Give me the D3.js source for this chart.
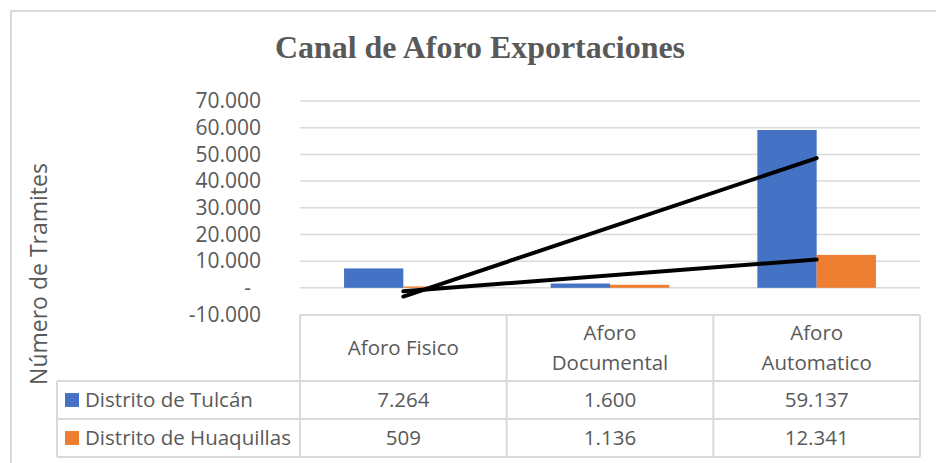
<!DOCTYPE html>
<html>
<head>
<meta charset="utf-8">
<script src="https://cdn.jsdelivr.net/npm/d3@7"></script>
<style>
  body { margin: 0; background: #fff; }
  svg { display: block; font-family: "Open Sans", "Noto Sans", sans-serif; }
</style>
</head>
<body>
<svg></svg>
<script>
var categories = ['Aforo Fisico', 'Aforo Documental', 'Aforo Automatico']
var headerLines = [['Aforo Fisico'], ['Aforo', 'Documental'], ['Aforo', 'Automatico']]
var seriesNames = ['Distrito de Tulcán', 'Distrito de Huaquillas']
var tulcan = [7264, 1600, 59137]
var huaquillas = [509, 1136, 12341]
var yTicks = [-10000, 0, 10000, 20000, 30000, 40000, 50000, 60000, 70000]

var width = 936, height = 463
var colors = ['#4472C4', '#ED7D31']
var textColor = '#595959'
var lineColor = '#d9d9d9'
var seriesValues = [tulcan, huaquillas]

// numbers with dot as thousands separator and a plain hyphen for minus
function fmt(v) {return d3.format(',')(v).replace(/,/g, '.').replace('\u2212', '-')}

var svg = d3.select('svg').attr('width', width).attr('height', height)

// outer chart border
svg.append('rect')
	.attr('x', 11).attr('y', 11)
	.attr('width', width + 10).attr('height', height + 10)
	.attr('fill', 'none').attr('stroke', lineColor).attr('stroke-width', 2)

svg.append('text')
	.attr('x', 480).attr('y', 58)
	.attr('text-anchor', 'middle')
	.attr('font-family', '"Liberation Serif", "Times New Roman", serif')
	.attr('font-weight', 'bold').attr('font-size', 32)
	.attr('textLength', 410).attr('lengthAdjust', 'spacingAndGlyphs')
	.attr('fill', textColor)
	.text('Canal de Aforo Exportaciones')

var plotLeft = 300, plotRight = 920
var x = d3.scaleBand().domain(categories).range([plotLeft, plotRight])
var xs = d3.scaleBand().domain(seriesNames).range([0, x.bandwidth()]).paddingOuter(0.743)
var y = d3.scaleLinear().domain([-10000, 70000]).range([314.5, 101])

// gridlines
svg.append('g').selectAll('line')
	.data(yTicks.filter(function(t) {return t > -10000}))
	.enter().append('line')
	.attr('x1', plotLeft).attr('x2', plotRight)
	.attr('y1', function(t) {return y(t)}).attr('y2', function(t) {return y(t)})
	.attr('stroke', lineColor).attr('stroke-width', 1.5)

// y axis labels
var yAxis = d3.axisLeft(y).tickValues(yTicks).tickSize(0).tickPadding(0)
	.tickFormat(function(t) {return t === 0 ? '-' : fmt(t)})
var yg = svg.append('g').attr('transform', 'translate(261,0)').call(yAxis)
yg.select('.domain').remove()
yg.selectAll('text').attr('font-size', 21).attr('fill', textColor)
	.attr('font-family', '"Open Sans", sans-serif')
	.attr('dx', function(t) {return t === 0 ? -10 : 0})

svg.append('text')
	.attr('transform', 'translate(47,274) rotate(-90)')
	.attr('text-anchor', 'middle')
	.attr('font-size', 23).attr('fill', textColor)
	.text('Número de Tramites')

// bars
var groups = svg.append('g').selectAll('g')
	.data(seriesNames).enter().append('g')
	.attr('fill', function(d, i) {return colors[i]})
groups.selectAll('rect')
	.data(function(s, i) {return seriesValues[i].map(function(v, j) {return {s: s, c: categories[j], v: v}})})
	.enter().append('rect')
	.attr('x', function(d) {return x(d.c) + xs(d.s)})
	.attr('width', xs.bandwidth())
	.attr('y', function(d) {return y(Math.max(0, d.v))})
	.attr('height', function(d) {return Math.abs(y(d.v) - y(0))})

// linear trendlines (least squares over category index)
function trend(vals) {
	var n = vals.length
	var xm = d3.mean(vals, function(v, i) {return i + 1})
	var ym = d3.mean(vals)
	var num = d3.sum(vals, function(v, i) {return (i + 1 - xm) * (v - ym)})
	var den = d3.sum(vals, function(v, i) {return (i + 1 - xm) * (i + 1 - xm)})
	var b = num / den
	return [ym + b * (1 - xm), ym + b * (n - xm)]
}
seriesValues.forEach(function(vals) {
	var t = trend(vals)
	svg.append('line')
		.attr('x1', x(categories[0]) + x.bandwidth() / 2)
		.attr('x2', x(categories[categories.length - 1]) + x.bandwidth() / 2)
		.attr('y1', y(t[0])).attr('y2', y(t[1]))
		.attr('stroke', '#000').attr('stroke-width', 4).attr('stroke-linecap', 'round')
})

// data table
var tableTop = 315, headBottom = 381, rowH = 38, labelLeft = 57
var table = svg.append('g').attr('stroke', lineColor).attr('stroke-width', 2)
table.append('line').attr('x1', plotLeft).attr('x2', plotRight).attr('y1', tableTop).attr('y2', tableTop)
;[headBottom, headBottom + rowH, headBottom + 2 * rowH].forEach(function(yy) {
	table.append('line').attr('x1', labelLeft).attr('x2', plotRight).attr('y1', yy).attr('y2', yy)
})
table.append('line').attr('x1', labelLeft).attr('x2', labelLeft).attr('y1', headBottom).attr('y2', headBottom + 2 * rowH)
x.domain().concat([null]).forEach(function(c) {
	var xx = c === null ? plotRight : x(c)
	table.append('line').attr('x1', xx).attr('x2', xx).attr('y1', tableTop).attr('y2', headBottom + 2 * rowH)
})

var txt = svg.append('g').attr('fill', textColor).attr('font-size', 20.5)
categories.forEach(function(c, j) {
	var lines = headerLines[j]
	var cy = (tableTop + headBottom) / 2
	lines.forEach(function(l, k) {
		txt.append('text')
			.attr('x', x(c) + x.bandwidth() / 2)
			.attr('y', cy + (k - (lines.length - 1) / 2) * 30)
			.attr('dy', '0.35em').attr('text-anchor', 'middle')
			.text(l)
	})
})
seriesNames.forEach(function(s, i) {
	var cy = headBottom + rowH * i + rowH / 2
	svg.append('rect').attr('x', 65).attr('y', cy - 7).attr('width', 14).attr('height', 14).attr('fill', colors[i])
	txt.append('text').attr('x', 85).attr('y', cy).attr('dy', '0.35em').text(s)
	seriesValues[i].forEach(function(v, j) {
		txt.append('text')
			.attr('x', x(categories[j]) + x.bandwidth() / 2)
			.attr('y', cy).attr('dy', '0.35em').attr('text-anchor', 'middle')
			.text(fmt(v))
	})
})
</script>
</body>
</html>
